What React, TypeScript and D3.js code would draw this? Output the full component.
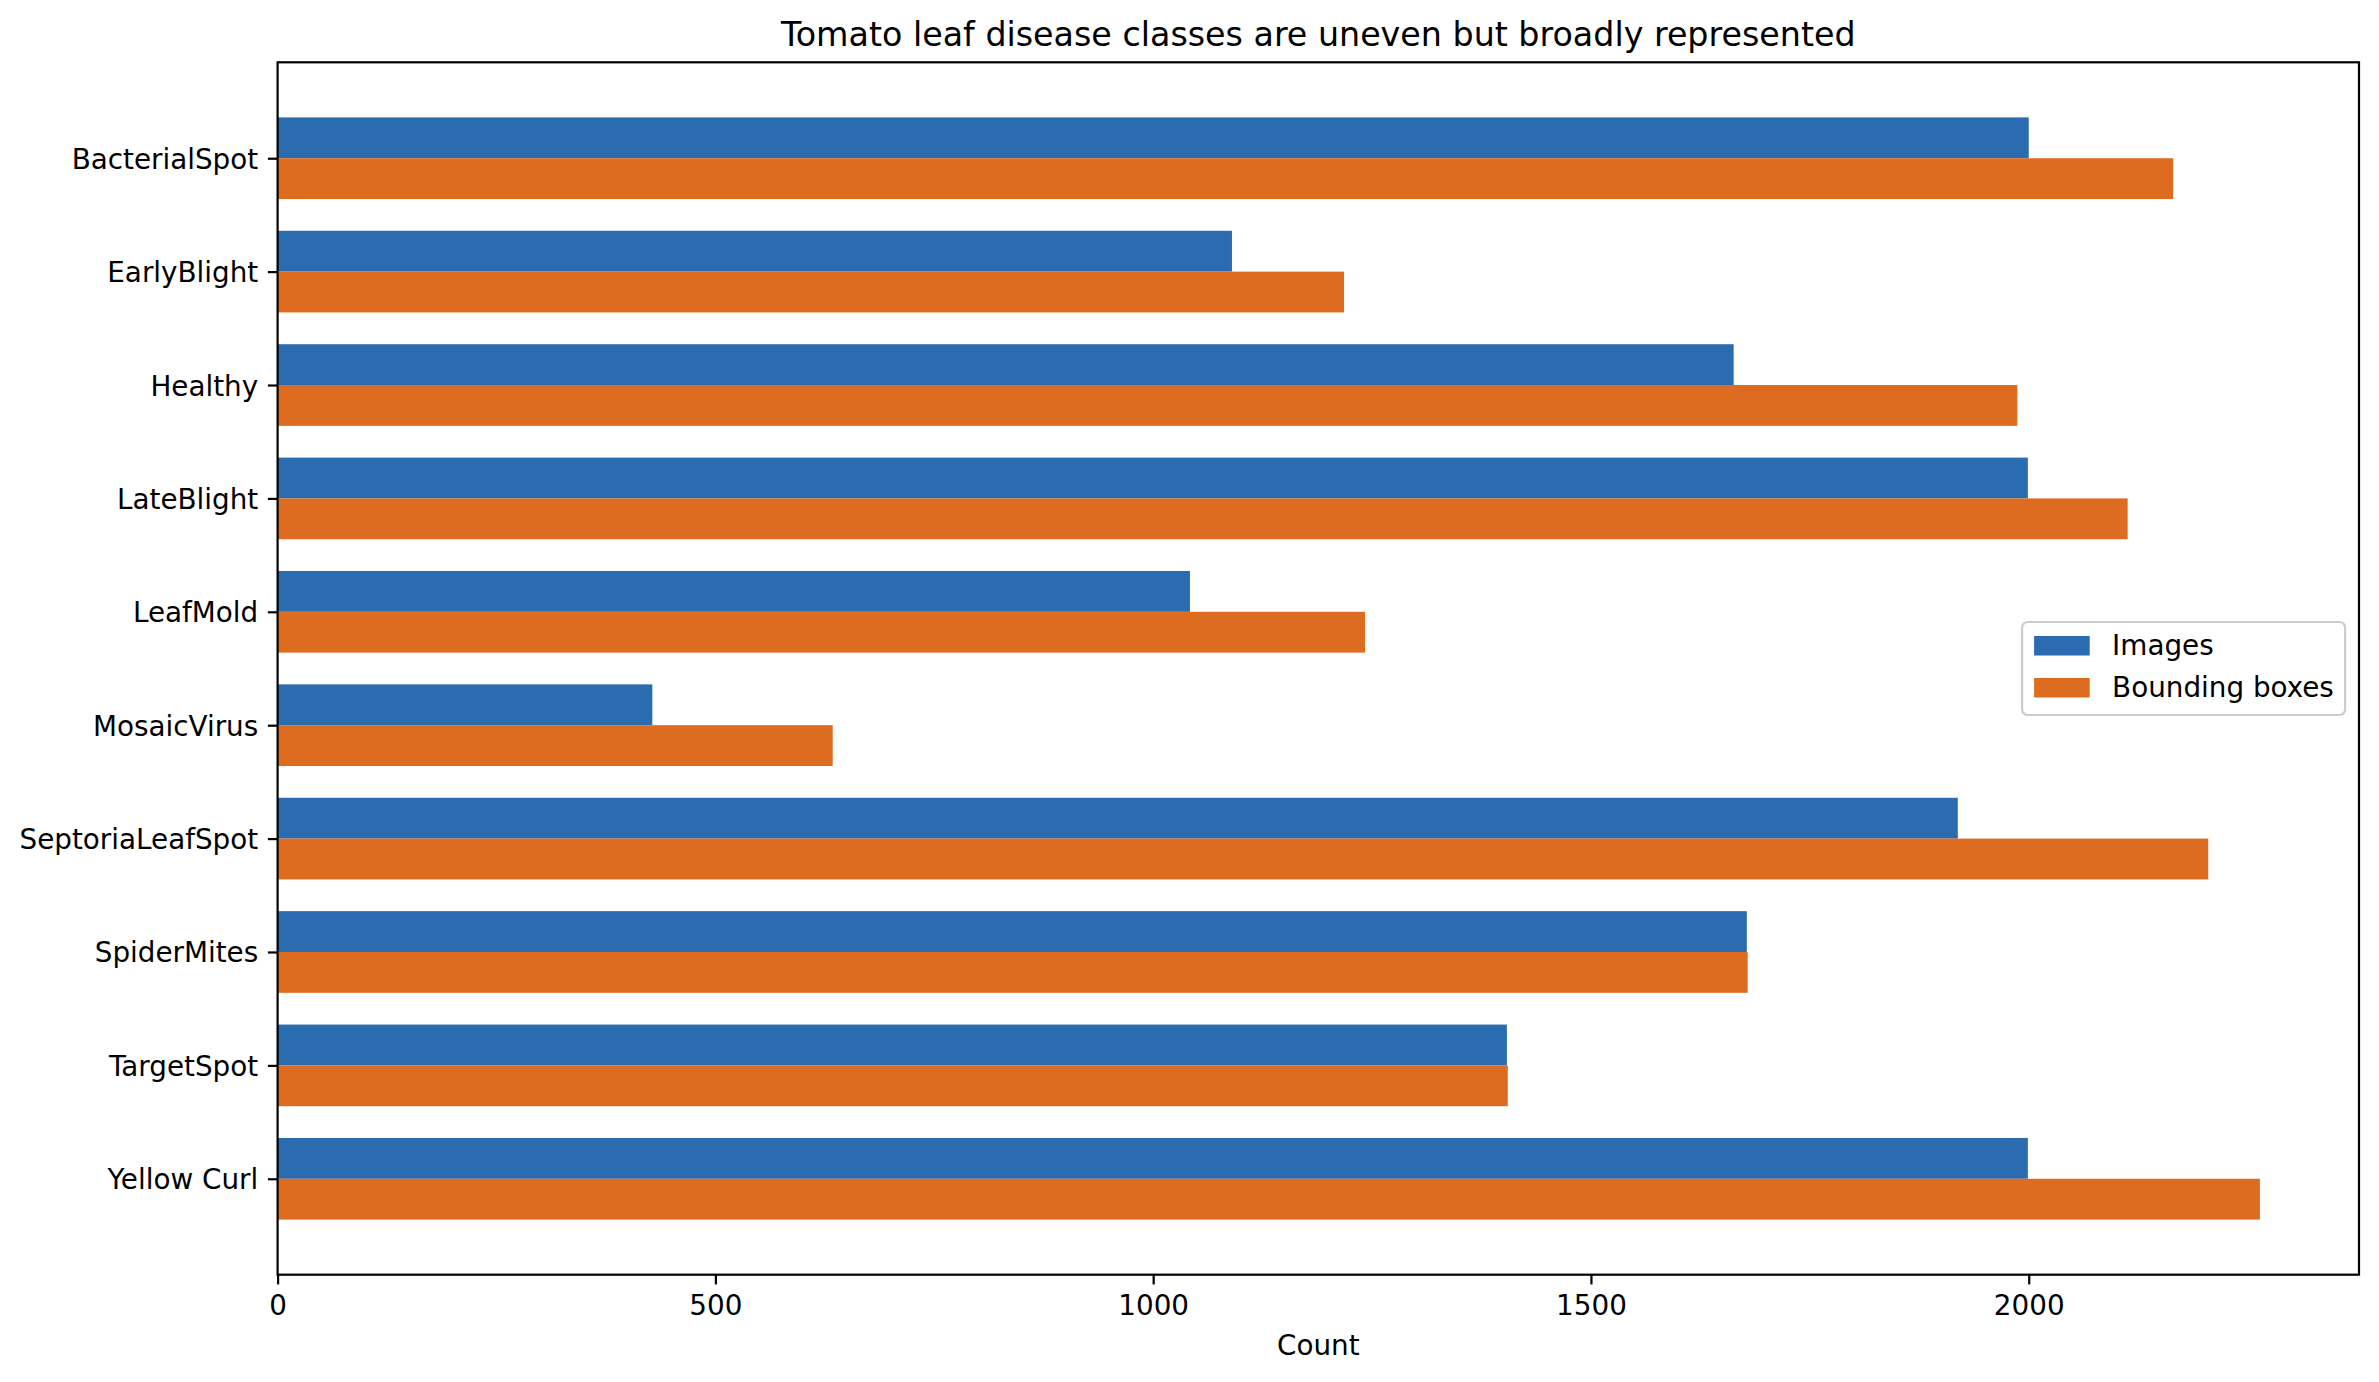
import { useEffect, useRef } from "react";
import * as d3 from "d3";

const width = 2379;
const height = 1382;
const margin = { top: 62.3, right: 20, bottom: 107.3, left: 277.6 };

const categories = [
  "BacterialSpot",
  "EarlyBlight",
  "Healthy",
  "LateBlight",
  "LeafMold",
  "MosaicVirus",
  "SeptoriaLeafSpot",
  "SpiderMites",
  "TargetSpot",
  "Yellow Curl",
];
const imageCounts = [2000, 1090, 1663, 1999, 1042, 428, 1919, 1678, 1404, 1999];
const boxCounts = [2165, 1218, 1987, 2113, 1242, 634, 2205, 1679, 1405, 2264];
const xTicks = [0, 500, 1000, 1500, 2000];

const seriesNames = ["Images", "Bounding boxes"];
const seriesColors = ["#2b6cb0", "#dd6b20"];

const font = "'DejaVu Sans', sans-serif";
const fontSize = 27.8;
const barH = 0.36;

export default function App() {
  const svgRef = useRef<SVGSVGElement | null>(null);

  useEffect(() => {
    if (!svgRef.current) return;
    const svg = d3.select(svgRef.current);
    svg.selectAll("*").remove();

    const x0 = margin.left;
    const x1 = width - margin.right;
    const y0 = margin.top;
    const y1 = height - margin.bottom;

    // matplotlib style 5% margins
    const xMax = (d3.max(boxCounts.concat(imageCounts)) ?? 0) * 1.05;
    const x = d3.scaleLinear().domain([0, xMax]).range([x0, x1]);

    const lo = -barH;
    const hi = categories.length - 1 + barH;
    const pad = (hi - lo) * 0.05;
    const y = d3
      .scaleLinear()
      .domain([lo - pad, hi + pad])
      .range([y0, y1]);

    // bars
    const series = [imageCounts, boxCounts];
    series.forEach((vals, s) => {
      svg
        .append("g")
        .selectAll("rect")
        .data(vals)
        .join("rect")
        .attr("x", x(0))
        .attr("y", (_, i) => y(i - barH + s * barH))
        .attr("width", (d) => x(d) - x(0))
        .attr("height", y(barH) - y(0))
        .attr("fill", seriesColors[s]);
    });

    // x axis
    const xAxis = svg
      .append("g")
      .attr("transform", `translate(0, ${y1})`)
      .call(
        d3
          .axisBottom(x)
          .tickValues(xTicks)
          .tickSize(9.72)
          .tickSizeOuter(0)
          .tickPadding(9.72)
          .tickFormat((d) => String(d)),
      );
    xAxis.select(".domain").remove();
    xAxis.selectAll("line").attr("stroke", "#000").attr("stroke-width", 2.2);
    xAxis
      .selectAll("text")
      .attr("dy", "0.76em")
      .attr("fill", "#000")
      .style("font-family", font)
      .style("font-size", `${fontSize}px`);

    // y axis
    const yAxis = svg
      .append("g")
      .attr("transform", `translate(${x0}, 0)`)
      .call(
        d3
          .axisLeft(y)
          .tickValues(d3.range(categories.length))
          .tickSize(9.72)
          .tickSizeOuter(0)
          .tickPadding(9.72)
          .tickFormat((d) => categories[d as number]),
      );
    yAxis.select(".domain").remove();
    yAxis.selectAll("line").attr("stroke", "#000").attr("stroke-width", 2.2);
    yAxis
      .selectAll("text")
      .attr("dy", "0.36em")
      .attr("fill", "#000")
      .style("font-family", font)
      .style("font-size", `${fontSize}px`);

    // frame
    svg
      .append("rect")
      .attr("x", x0)
      .attr("y", y0)
      .attr("width", x1 - x0)
      .attr("height", y1 - y0)
      .attr("fill", "none")
      .attr("stroke", "#000")
      .attr("stroke-width", 2.2);

    // title
    svg
      .append("text")
      .attr("x", (x0 + x1) / 2)
      .attr("y", y0 - 16.7)
      .attr("text-anchor", "middle")
      .style("font-family", font)
      .style("font-size", "33.3px")
      .text("Tomato leaf disease classes are uneven but broadly represented");

    // x label
    svg
      .append("text")
      .attr("x", (x0 + x1) / 2)
      .attr("y", 1355)
      .attr("text-anchor", "middle")
      .style("font-family", font)
      .style("font-size", `${fontSize}px`)
      .text("Count");

    // legend, center right
    const legW = 323;
    const legH = 93;
    const lg = svg
      .append("g")
      .attr("transform", `translate(${x1 - 13.9 - legW}, ${(y0 + y1) / 2 - legH / 2})`);
    lg.append("rect")
      .attr("width", legW)
      .attr("height", legH)
      .attr("rx", 5.5)
      .attr("fill", "#fff")
      .attr("fill-opacity", 0.8)
      .attr("stroke", "#cccccc")
      .attr("stroke-width", 2.2);
    seriesNames.forEach((name, i) => {
      const row = lg.append("g").attr("transform", `translate(0, ${14 + i * 42})`);
      row
        .append("rect")
        .attr("x", 12)
        .attr("y", 0)
        .attr("width", 55.6)
        .attr("height", 19.5)
        .attr("fill", seriesColors[i]);
      row
        .append("text")
        .attr("x", 90)
        .attr("y", 19)
        .style("font-family", font)
        .style("font-size", `${fontSize}px`)
        .text(name);
    });
  }, []);

  return (
    <svg
      ref={svgRef}
      width={width}
      height={height}
      viewBox={`0 0 ${width} ${height}`}
      style={{ position: "absolute", left: 0, top: 0, background: "#fff" }}
    />
  );
}
